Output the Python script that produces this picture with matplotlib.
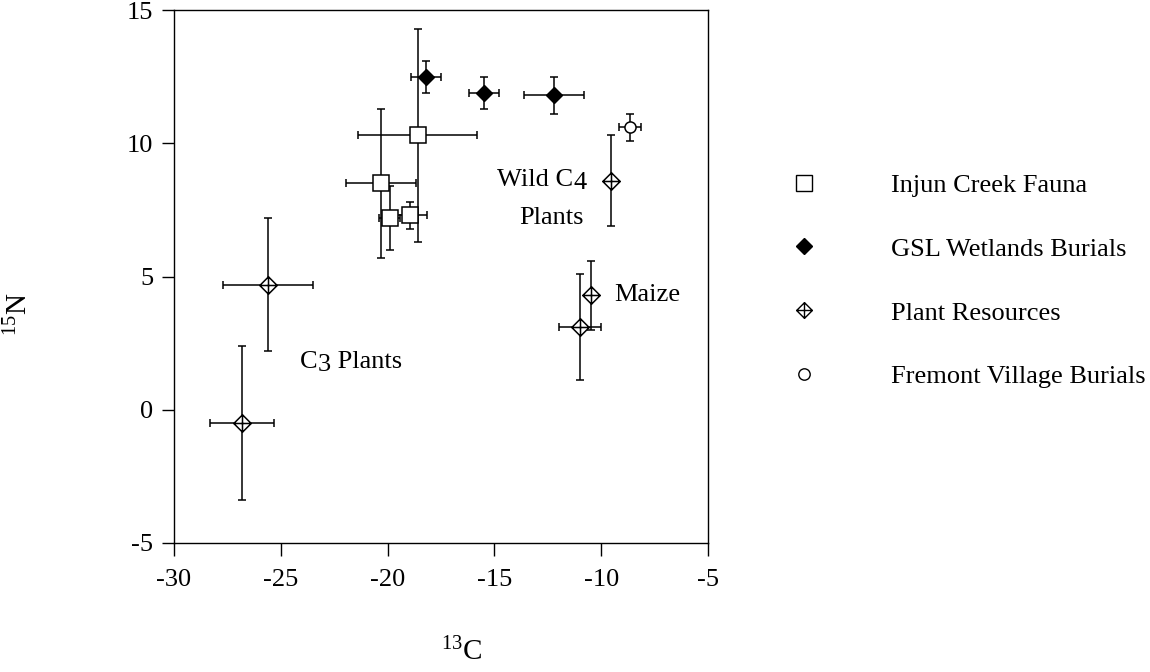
import numpy as np
import matplotlib.pyplot as plt
from matplotlib.path import Path
from matplotlib.lines import Line2D

plt.rcParams['font.family'] = ['Liberation Serif', 'DejaVu Serif']
plt.rcParams['mathtext.fontset'] = 'custom'
plt.rcParams['mathtext.rm'] = 'Liberation Serif'
plt.rcParams['mathtext.it'] = 'Liberation Serif'
plt.rcParams['font.size'] = 19
plt.rcParams['axes.unicode_minus'] = False

# Injun Creek Fauna
fauna_c = [-18.6, -20.3, -19.9, -18.95]
fauna_n = [10.3, 8.5, 7.2, 7.3]
fauna_cerr = [2.8, 1.65, 0.5, 0.8]
fauna_nerr = [4.0, 2.8, 1.2, 0.5]

# GSL Wetlands Burials
gsl_c = [-18.2, -15.5, -12.2]
gsl_n = [12.5, 11.9, 11.8]
gsl_cerr = [0.7, 0.7, 1.4]
gsl_nerr = [0.6, 0.6, 0.7]

# Plant Resources (C3, C3, wild C4, maize, maize)
plant_c = [-25.6, -26.8, -9.55, -10.5, -11.0]
plant_n = [4.7, -0.5, 8.6, 4.3, 3.1]
plant_cerr = [2.1, 1.5, 0.0, 0.0, 1.0]
plant_nerr = [2.5, 2.9, 1.7, 1.3, 2.0]

# Fremont Village Burials
fremont_c = [-8.65]
fremont_n = [10.6]
fremont_cerr = [0.5]
fremont_nerr = [0.5]

# diamond with a cross inside
diamond_plus = Path(
    [(0, 1), (1, 0), (0, -1), (-1, 0), (0, 1), (0, 1), (0, -1), (-1, 0), (1, 0)],
    [Path.MOVETO, Path.LINETO, Path.LINETO, Path.LINETO, Path.CLOSEPOLY,
     Path.MOVETO, Path.LINETO, Path.MOVETO, Path.LINETO])

fig = plt.figure(figsize=(11.5, 6.72), dpi=100)
ax = fig.add_axes([0.1513, 0.192, 0.4644, 0.793])

eb = dict(ecolor='black', elinewidth=1.1, capsize=3, capthick=1.1, linestyle='none')
ax.errorbar(fauna_c, fauna_n, xerr=fauna_cerr, yerr=fauna_nerr, fmt='s', ms=12.2,
            mfc='white', mec='black', mew=1.1, zorder=3, **eb)
ax.errorbar(gsl_c, gsl_n, xerr=gsl_cerr, yerr=gsl_nerr, fmt='D', ms=8.6,
            mfc='black', mec='black', zorder=3, **eb)
ax.errorbar(plant_c, plant_n, xerr=plant_cerr, yerr=plant_nerr, fmt='none', zorder=2, **eb)
ax.plot(plant_c, plant_n, ls='none', marker=diamond_plus, ms=12.5,
        mfc='white', mec='black', mew=1.1, zorder=3)
ax.errorbar(fremont_c, fremont_n, xerr=fremont_cerr, yerr=fremont_nerr, fmt='o', ms=8,
            mfc='white', mec='black', mew=1.1, zorder=3, **eb)

# labels with full-size subscripts
c3 = ax.text(-24.1, 1.55, 'C', ha='left', va='baseline')
c3s = ax.annotate('3', xy=(1, 0), xycoords=c3, xytext=(0.3, -2), textcoords='offset points',
                  ha='left', va='bottom')
ax.annotate(' Plants', xy=(1, 0), xycoords=(c3s, c3), xytext=(0, 0),
            textcoords='offset points', ha='left', va='bottom')
ax.text(-9.4, 4.3, 'Maize', ha='left', va='center')
c4 = ax.text(-11.3, 8.4, 'Wild C', ha='right', va='baseline')
ax.annotate('4', xy=(1, 0), xycoords=c4, xytext=(0.3, -2), textcoords='offset points',
            ha='left', va='bottom')
ax.text(-10.8, 7.2, 'Plants', ha='right', va='center')

ax.set_xlim(-30, -5)
ax.set_ylim(-5, 15)
ax.set_xticks(np.arange(-30, -4, 5))
ax.set_yticks(np.arange(-5, 16, 5))
ax.tick_params(direction='out', length=9, width=1)
ax.tick_params(axis='x', pad=10)
ax.tick_params(axis='y', pad=6)
for s in ax.spines.values():
    s.set_linewidth(1)

fig.text(0.017, 0.533, r'$^{15}$N', rotation=90, ha='center', va='center', fontsize=21)
fig.text(0.401, 0.03, r'$^{13}$C', ha='center', va='center', fontsize=21)

handles = [
    Line2D([], [], ls='none', marker='s', ms=11.3, mfc='white', mec='black', mew=1),
    Line2D([], [], ls='none', marker='D', ms=8.1, mfc='black', mec='black'),
    Line2D([], [], ls='none', marker=diamond_plus, ms=11.3, mfc='white', mec='black', mew=1),
    Line2D([], [], ls='none', marker='o', ms=8.2, mfc='white', mec='black', mew=1),
]
labels = ['Injun Creek Fauna', 'GSL Wetlands Burials', 'Plant Resources',
          'Fremont Village Burials']
fig.legend(handles, labels, loc='upper left', bbox_to_anchor=(0.6878, 0.742),
           frameon=False, handlelength=1, handletextpad=2.8, labelspacing=1.53,
           borderpad=0, borderaxespad=0)

fig.savefig('out.png', dpi=100)
